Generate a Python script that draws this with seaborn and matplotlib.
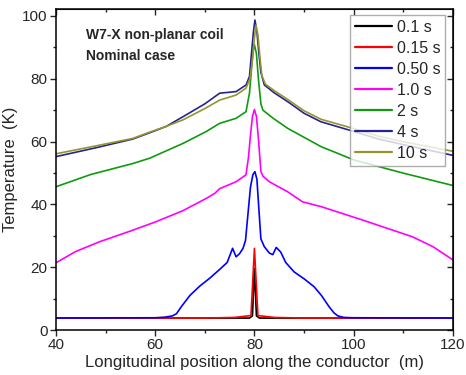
import numpy as np
import pandas as pd
import seaborn as sns
import matplotlib.pyplot as plt
from matplotlib.ticker import MultipleLocator

# data (position in m, temperature in K)
x_01 = [40, 79.0, 79.6, 80.0, 80.4, 81.0, 120]
t_01 = [3.8, 3.8, 4.5, 19.6, 4.5, 3.8, 3.8]

x_015 = [40, 70, 76, 79.3, 80.0, 80.7, 84, 90, 120]
t_015 = [3.8, 3.8, 4.0, 4.6, 26.0, 4.6, 4.0, 3.8, 3.8]

x_05 = [40, 60, 62, 63.5, 64.3, 65.3, 67, 69, 71, 73, 74.5, 75.6, 76.3, 77, 77.7,
        78.2, 78.7, 79.2, 79.7, 80.1, 80.5, 81, 81.3, 82, 83, 83.7, 84.4, 85.3,
        86.3, 88, 90, 92, 93.5, 95, 96, 96.8, 98, 100, 120]
t_05 = [3.8, 3.9, 4.1, 4.5, 5.2, 7.5, 11, 14, 16.5, 19.3, 21.5, 26, 23.3, 24.3, 26,
        28.5, 37, 45.5, 49.5, 50.4, 48, 36, 29, 26.5, 24.5, 24, 26.3, 24.8,
        21.5, 18.5, 16.3, 13.8, 11, 7.5, 5.5, 4.5, 4.0, 3.9, 3.8]

x_1 = [40, 44, 48.8, 55, 60.2, 65.6, 70.3, 72, 73, 76.3, 78.3, 78.8, 79.2, 79.6,
       80.0, 80.4, 80.8, 81.3, 81.7, 83, 86.7, 89.7, 93.4, 101.8, 111.8, 116, 120]
t_1 = [21.4, 25, 28.1, 31.5, 34.5, 38, 41.9, 43.5, 45, 47.2, 49.4, 55, 62, 68,
       70.2, 68, 61, 50.5, 49, 47.2, 44, 40.8, 39.3, 35, 29.7, 26.5, 22.3]

x_2 = [40, 47, 55.5, 58.9, 65.6, 70.3, 73, 76.3, 78.3, 79.0, 79.4, 79.7, 80.0,
       80.4, 80.8, 81.3, 81.7, 83.7, 86.7, 93.4, 100.1, 110.1, 119.5, 120]
t_2 = [45.6, 49.5, 53, 54.7, 59.4, 63.2, 65.8, 67.4, 69.5, 75.4, 83, 88.5, 90.8,
       88, 80, 72, 70, 67.5, 64.2, 58.4, 54.1, 49.9, 46.2, 46.0]

x_4 = [40, 48, 55.5, 58.9, 62.2, 65.6, 70, 73, 76.3, 78.3, 79.0, 79.4, 79.8, 80.1,
       80.5, 80.9, 81.3, 82, 84, 86.7, 90, 93.4, 99.4, 105, 110, 115, 120]
t_4 = [55.2, 58, 60.8, 62.8, 64.8, 67.9, 72, 75.4, 75.9, 78, 80.7, 88, 95, 98.7,
       95, 88, 82, 78, 75.5, 72.7, 69, 66.3, 63.5, 60.8, 59, 57.3, 55.6]

x_10 = [40, 48, 55.5, 58.9, 62.2, 65.6, 70, 73, 76.3, 78.3, 79.1, 79.6, 80.0,
        80.3, 80.7, 81.1, 81.5, 82.2, 84, 86.7, 90, 93.4, 99.4, 105, 110, 115, 120]
t_10 = [56.1, 58.6, 61, 63, 64.8, 66.9, 70.5, 73.2, 74.8, 77, 80, 86, 93,
        97.1, 94, 87, 81, 78.3, 76.2, 73.4, 69.8, 67.1, 64.4, 61.7, 59.9, 58.4, 56.9]

labels = ['0.1 s', '0.15 s', '0.50 s', '1.0 s', '2 s', '4 s', '10 s']
colors = ['black', '#ff0000', '#0000ff', '#ff00ff', '#0f9a0f', '#24248f', '#959530']
xs = [x_01, x_015, x_05, x_1, x_2, x_4, x_10]
ts = [t_01, t_015, t_05, t_1, t_2, t_4, t_10]

df = pd.concat([pd.DataFrame({'pos': x, 'temp': t, 'time': lab})
                for x, t, lab in zip(xs, ts, labels)], ignore_index=True)

sns.set_style('ticks')
plt.rcParams['font.family'] = ['Liberation Sans', 'DejaVu Sans']

fig = plt.figure(figsize=(4.66, 3.75), dpi=100)
ax = fig.add_axes([0.120, 0.12, 0.852, 0.856])

sns.lineplot(data=df, x='pos', y='temp', hue='time', hue_order=labels,
             palette=dict(zip(labels, colors)), estimator=None, sort=False,
             linewidth=1.2, ax=ax)

ax.set_xlim(40, 120)
ax.set_ylim(0, 102.2)
ax.xaxis.set_major_locator(MultipleLocator(20))
ax.xaxis.set_minor_locator(MultipleLocator(10))
ax.yaxis.set_major_locator(MultipleLocator(20))
ax.yaxis.set_minor_locator(MultipleLocator(10))
ax.tick_params(which='major', direction='out', length=4, width=1, labelsize=11, pad=2)
ax.tick_params(which='minor', direction='out', length=2.5, width=1)
for s in ax.spines.values():
    s.set_linewidth(1.1)
    s.set_color('black')

top = ax.secondary_xaxis('top')
top.xaxis.set_major_locator(MultipleLocator(20))
top.xaxis.set_minor_locator(MultipleLocator(10))
top.tick_params(which='both', direction='in', labeltop=False, width=1)
top.tick_params(which='major', length=4)
top.tick_params(which='minor', length=2.5)
right = ax.secondary_yaxis('right')
right.yaxis.set_major_locator(MultipleLocator(20))
right.yaxis.set_minor_locator(MultipleLocator(10))
right.tick_params(which='both', direction='in', labelright=False, width=1)
right.tick_params(which='major', length=4)
right.tick_params(which='minor', length=2.5)

ax.set_xlabel('Longitudinal position along the conductor  (m)', fontsize=12, labelpad=2)
ax.set_ylabel('Temperature  (K)', fontsize=12, labelpad=1)
ax.yaxis.set_label_coords(-0.095, 0.5)

ax.text(46, 94, 'W7-X non-planar coil', fontsize=10, fontweight='bold', va='center')
ax.text(46, 87.3, 'Nominal case', fontsize=10, fontweight='bold', va='center')

leg = ax.legend(loc='upper right', bbox_to_anchor=(0.98, 0.982), fontsize=11.5,
                frameon=True, fancybox=False, handlelength=2.3, handletextpad=0.3,
                labelspacing=0.38, borderpad=0.3, borderaxespad=0)
leg.get_frame().set_edgecolor('#999999')
leg.get_frame().set_linewidth(1.0)
for line in leg.get_lines():
    line.set_linewidth(1.6)

fig.savefig('out.png', dpi=100)
